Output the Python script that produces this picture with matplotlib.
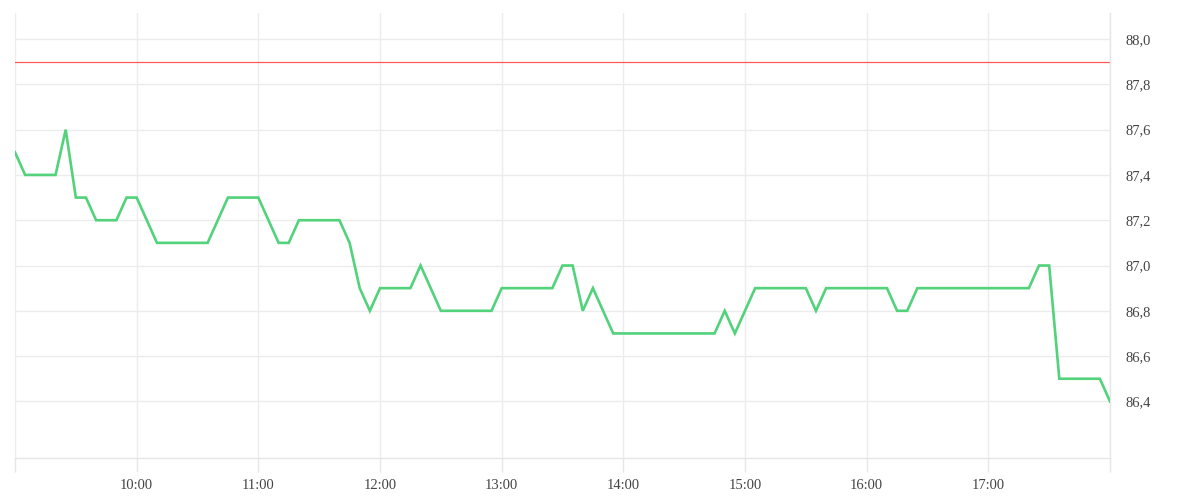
import numpy as np
import pandas as pd
import matplotlib
matplotlib.use("Agg")
import matplotlib.pyplot as plt
import matplotlib.dates as mdates

# price every 5 minutes, 09:00 .. 18:00
start_time = "2024-01-01 09:00"
prices = [87.5, 87.4, 87.4, 87.4, 87.4, 87.6, 87.3, 87.3, 87.2, 87.2,
          87.2, 87.3, 87.3, 87.2, 87.1, 87.1, 87.1, 87.1, 87.1, 87.1,
          87.2, 87.3, 87.3, 87.3, 87.3, 87.2, 87.1, 87.1, 87.2, 87.2,
          87.2, 87.2, 87.2, 87.1, 86.9, 86.8, 86.9, 86.9, 86.9, 86.9,
          87.0, 86.9, 86.8, 86.8, 86.8, 86.8, 86.8, 86.8, 86.9, 86.9,
          86.9, 86.9, 86.9, 86.9, 87.0, 87.0, 86.8, 86.9, 86.8, 86.7,
          86.7, 86.7, 86.7, 86.7, 86.7, 86.7, 86.7, 86.7, 86.7, 86.7,
          86.8, 86.7, 86.8, 86.9, 86.9, 86.9, 86.9, 86.9, 86.9, 86.8,
          86.9, 86.9, 86.9, 86.9, 86.9, 86.9, 86.9, 86.8, 86.8, 86.9,
          86.9, 86.9, 86.9, 86.9, 86.9, 86.9, 86.9, 86.9, 86.9, 86.9,
          86.9, 87.0, 87.0, 86.5, 86.5, 86.5, 86.5, 86.5, 86.4]
ref_level = 87.9
y_ticks = [86.4, 86.6, 86.8, 87.0, 87.2, 87.4, 87.6, 87.8, 88.0]
hours = list(range(9, 19))
hour_labels = ["", "10:00", "11:00", "12:00", "13:00", "14:00", "15:00",
               "16:00", "17:00", ""]

times = pd.date_range(start_time, periods=len(prices), freq="5min")
day = pd.Timestamp(start_time).normalize()
hour_ticks = [day + pd.Timedelta(hours=h) for h in hours]

plt.rcParams['font.family'] = ['Liberation Serif', 'DejaVu Serif']

fig = plt.figure(figsize=(12, 5), dpi=100)
ax = fig.add_axes([0.0125, 0.084, 0.9125, 0.89])

ax.plot(times, prices, color="#52d27b", lw=1.9, solid_joinstyle="miter", zorder=3)
ax.axhline(ref_level, color="#ff5a5a", lw=0.9, zorder=2)

ax.set_xlim(hour_ticks[0], hour_ticks[-1])
ax.set_ylim(86.15, 88.115)

ax.set_xticks(hour_ticks)
ax.set_xticklabels(hour_labels)
ax.set_yticks(y_ticks)
ax.set_yticklabels([f"{v:.1f}".replace(".", ",") for v in y_ticks])

ax.yaxis.tick_right()
ax.tick_params(axis="y", length=0, pad=11, labelsize=10.5, labelcolor="#444444")
ax.tick_params(axis="x", length=10, width=1, color="#e6e6e6", pad=5,
               labelsize=10.5, labelcolor="#444444")

ax.grid(True, color="#ececec", lw=1, zorder=0)
for s in ["top", "left"]:
    ax.spines[s].set_visible(False)
for s in ["right", "bottom"]:
    ax.spines[s].set_color("#e6e6e6")
    ax.spines[s].set_linewidth(1)

fig.savefig("out.png", dpi=100)
